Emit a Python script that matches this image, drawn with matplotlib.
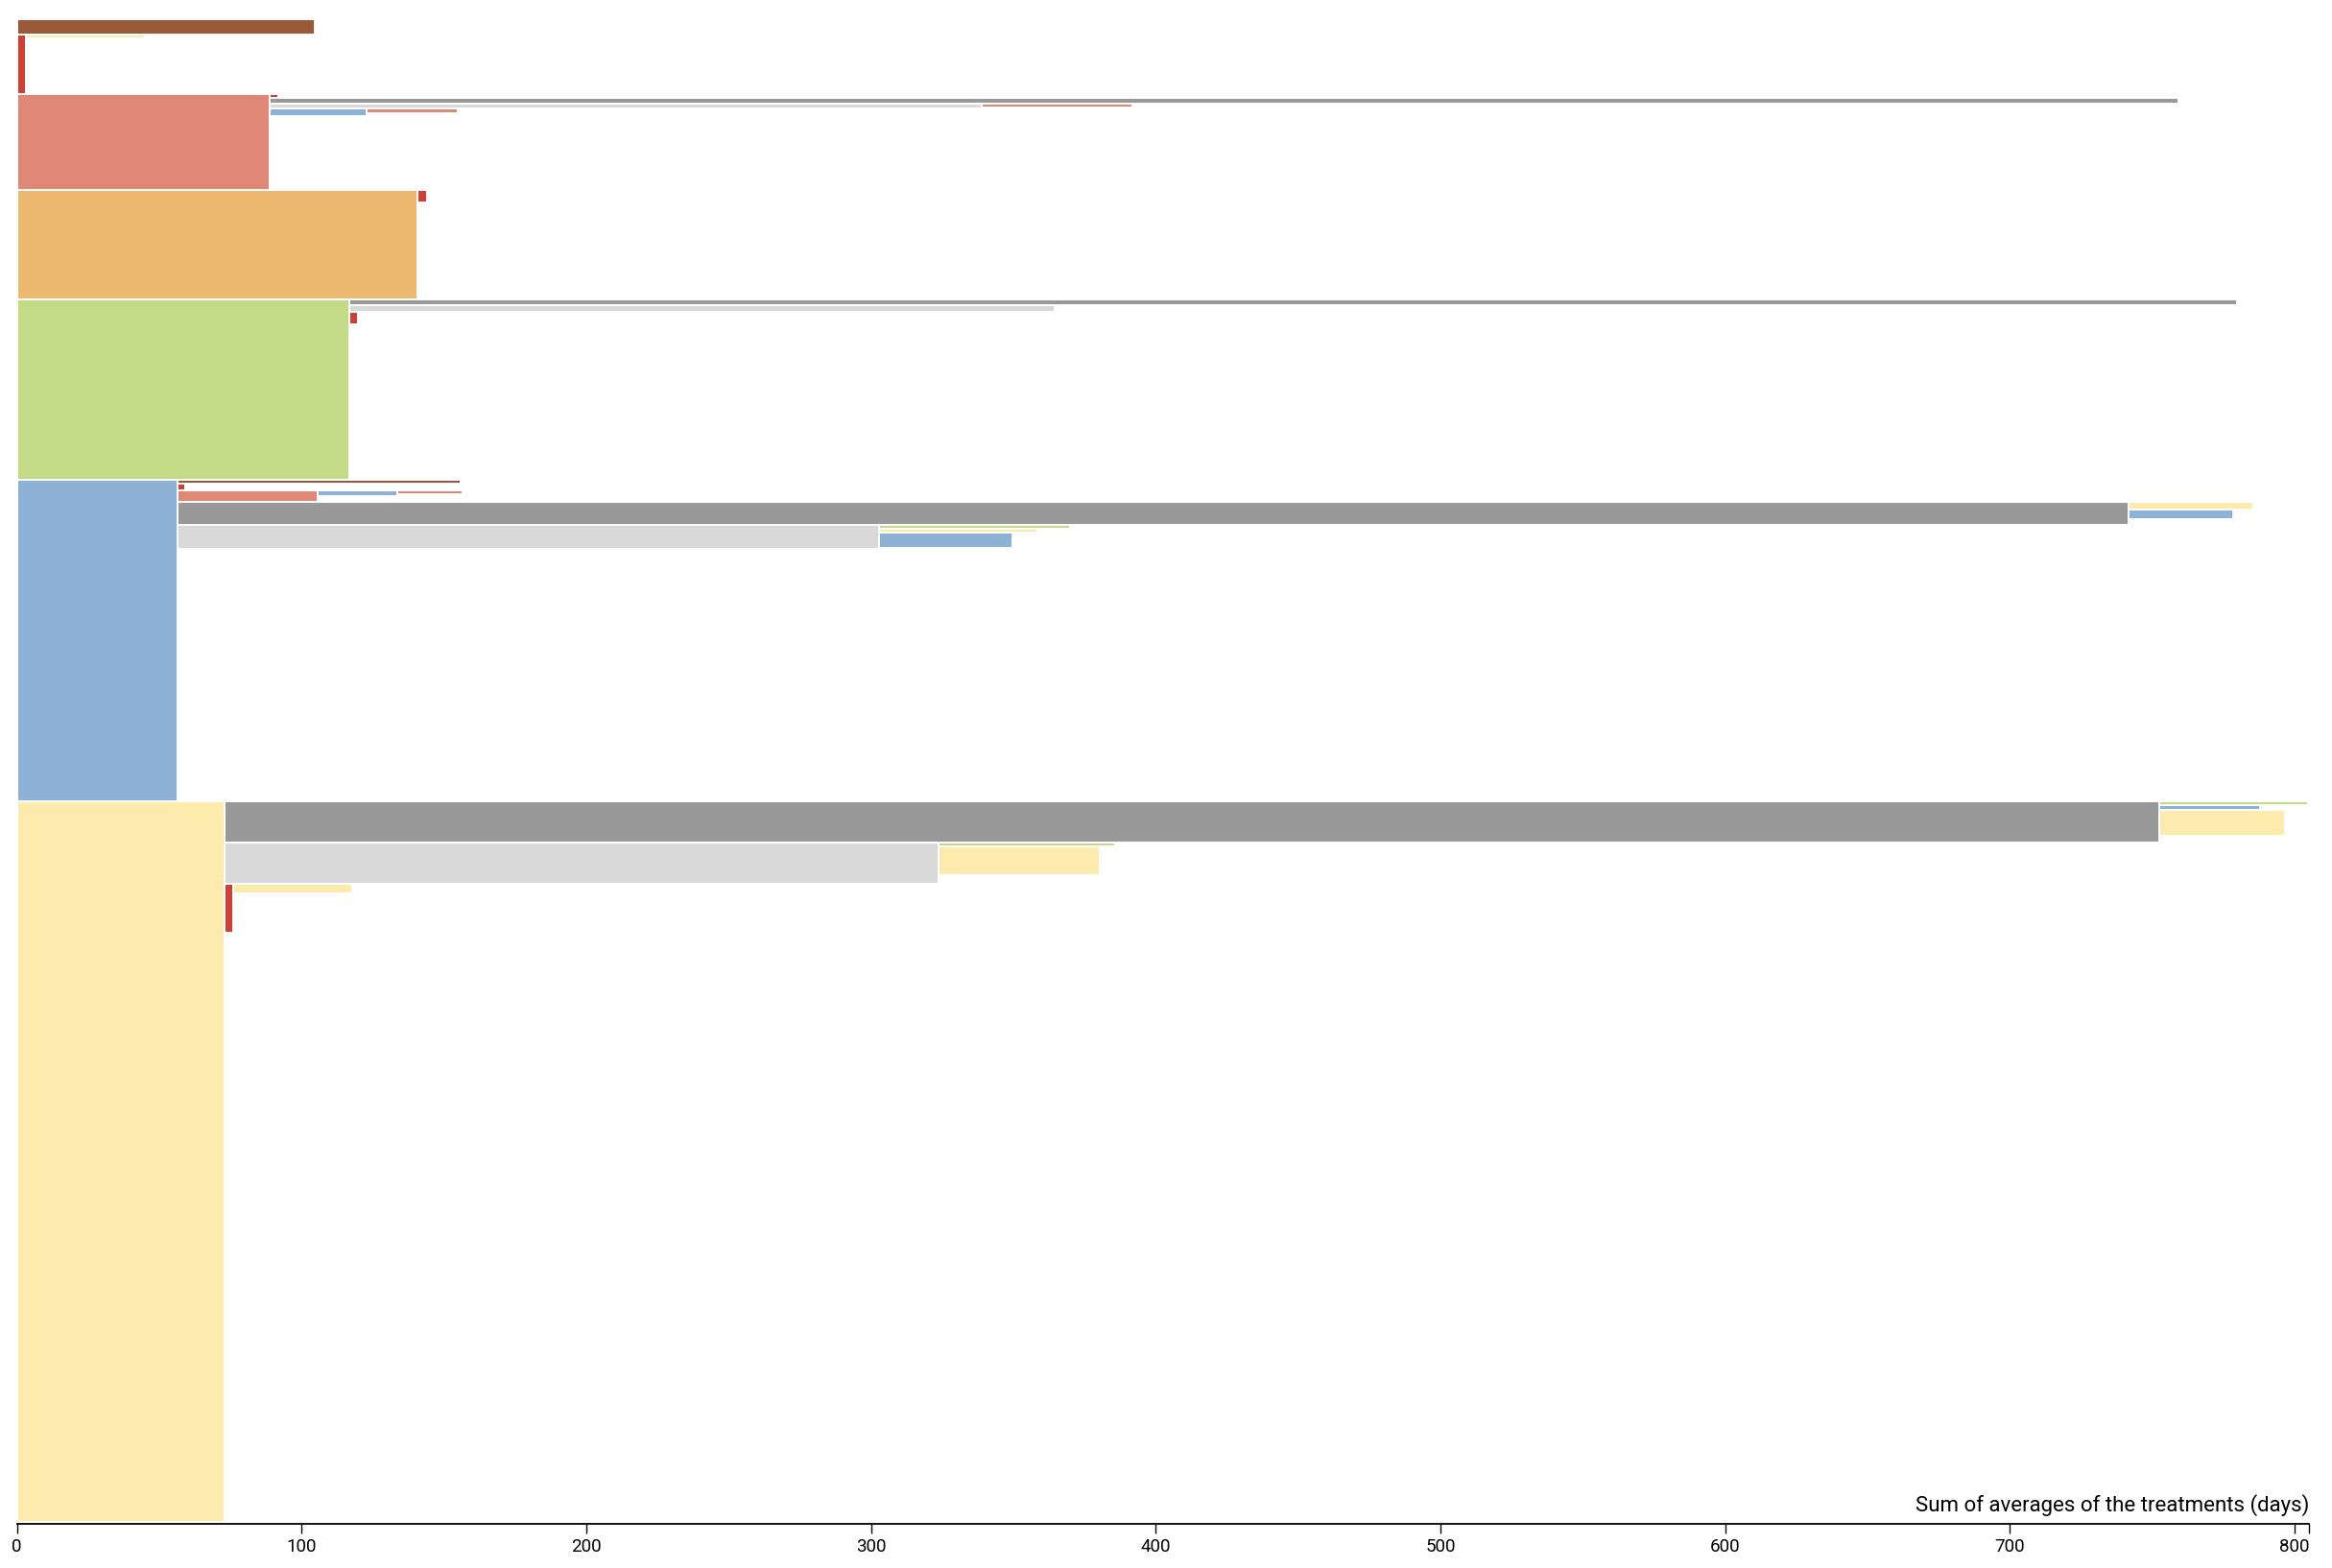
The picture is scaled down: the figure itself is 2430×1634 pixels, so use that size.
import matplotlib
matplotlib.use("Agg")
import matplotlib.pyplot as plt
from matplotlib.ticker import FixedLocator

plt.rcParams['font.family'] = ['Roboto', 'DejaVu Sans']

# Treatment colours
treatments = ['brown', 'red', 'salmon', 'orange', 'green', 'blue', 'yellow', 'gray', 'lightgray']
colors = ['#9a5a3a', '#cc4136', '#e08878', '#edb971', '#c3da87', '#8eb1d6', '#fdebad', '#999999', '#d9d9d9']

# Treatment sequences (paths), average duration of the last treatment (days), patient share (arbitrary units)
paths = [
    'brown',
    'red', 'red>yellow',
    'salmon', 'salmon>red', 'salmon>gray', 'salmon>lightgray', 'salmon>lightgray>salmon',
    'salmon>blue', 'salmon>blue>salmon',
    'orange', 'orange>red',
    'green', 'green>gray', 'green>lightgray', 'green>red',
    'blue', 'blue>brown', 'blue>red', 'blue>salmon', 'blue>salmon>blue', 'blue>salmon>blue>salmon',
    'blue>gray', 'blue>gray>yellow', 'blue>gray>blue',
    'blue>lightgray', 'blue>lightgray>green', 'blue>lightgray>yellow', 'blue>lightgray>blue',
    'yellow', 'yellow>gray', 'yellow>gray>green', 'yellow>gray>blue', 'yellow>gray>yellow',
    'yellow>lightgray', 'yellow>lightgray>green', 'yellow>lightgray>yellow',
    'yellow>red', 'yellow>red>yellow',
]
avg_days = [
    104.6,
    3.3, 41.6,
    88.7, 3.1, 670.3, 250.1, 52.9,
    34.0, 32.1,
    140.8, 3.4,
    116.7, 663.1, 247.9, 3.2,
    56.4, 99.4, 2.6, 49.3, 28.0, 23.0,
    685.4, 43.7, 36.6,
    246.3, 67.1, 55.8, 46.9,
    72.9, 679.6, 52.2, 35.3, 44.1,
    250.7, 62.2, 56.9,
    3.2, 41.6,
]
counts = [
    15.7,
    62.3, 4.0,
    100.0, 4.3, 5.7, 5.3, 4.0,
    8.0, 4.7,
    113.7, 12.7,
    188.3, 6.3, 7.0, 12.7,
    335.0, 4.0, 7.3, 12.0, 5.4, 3.7,
    24.0, 7.7, 10.3,
    24.7, 3.7, 4.3, 15.3,
    751.0, 43.0, 4.0, 5.0, 27.0,
    43.0, 4.0, 30.0,
    50.7, 10.3,
]

x_ticks = [0, 100, 200, 300, 400, 500, 600, 700, 800]
x_max = 805
x_title = 'Sum of averages of the treatments (days)'

# ---- partition layout computed from the data ----
color_of = dict(zip(treatments, colors))
info = {}
next_y = {}  # next free y for children of a node ('' = root)
for p, d, c in zip(paths, avg_days, counts):
    parts = p.split('>')
    parent = '>'.join(parts[:-1])
    if parent == '':
        x0 = 0.0
        y0 = next_y.get('', 0.0)
    else:
        px0, pd, py0, pc = info[parent]
        x0 = px0 + pd
        y0 = next_y.get(parent, py0)
    next_y[parent] = y0 + c
    info[p] = (x0, d, y0, c)

total = sum(c for p, c in zip(paths, counts) if '>' not in p)

W, H = 2430, 1634
fig = plt.figure(figsize=(W / 100, H / 100), dpi=100)
left_px, right_px, top_px, bottom_px = 17.5, 2406, 20, 1586
ax = fig.add_axes([left_px / W, 1 - bottom_px / H, (right_px - left_px) / W, (bottom_px - top_px) / H])

for p in paths:
    x0, d, y0, c = info[p]
    col = color_of[p.split('>')[-1]]
    ax.barh(y0, d, left=x0, height=c, align='edge', color=col,
            edgecolor='white', linewidth=1.4, zorder=2)

ax.set_xlim(0, x_max)
ax.set_ylim(total, 0)
for s in ['top', 'left', 'right']:
    ax.spines[s].set_visible(False)
ax.spines['bottom'].set_linewidth(1.3)
ax.spines['bottom'].set_position(('outward', 1.5))
ax.set_yticks([])
ax.set_xticks(x_ticks)
ax.set_xticklabels([str(t) for t in x_ticks])
ax.xaxis.set_minor_locator(FixedLocator([x_max]))
ax.tick_params(axis='x', which='major', length=7, width=1.0, pad=4, labelsize=13.5, colors='black')
ax.tick_params(axis='x', which='minor', length=7, width=1.0)

ax.text(1.0, 0.004, x_title, transform=ax.transAxes, ha='right', va='bottom',
        fontsize=16, color='black')

fig.savefig('out.png', dpi=100, facecolor='white')
